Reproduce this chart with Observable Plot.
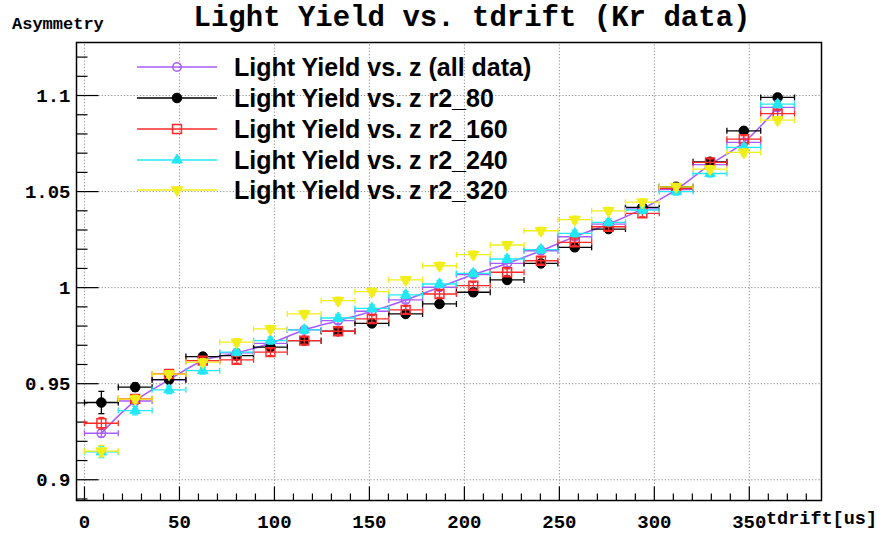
<!DOCTYPE html>
<html><head><meta charset="utf-8">
<script src="https://cdn.jsdelivr.net/npm/d3@7"></script>
<script src="https://cdn.jsdelivr.net/npm/@observablehq/plot@0.6"></script>
<style>
body{margin:0;background:#fff}
#chart{position:relative;width:882px;height:534px}
</style>
</head><body><div id="chart"></div>
<script>
// ---------- data ----------
const tdrift = [8.9, 26.7, 44.5, 62.3, 80.1, 97.9, 115.7, 133.5, 151.3, 169.1, 186.9,
                204.7, 222.5, 240.3, 258.1, 275.9, 293.7, 311.5, 329.3, 347.1, 364.9];
const tdriftHalfWidth = 8.9;

const lyAll   = [0.9242, 0.9410, 0.9520, 0.9620, 0.9660, 0.9710, 0.9780, 0.9828, 0.9877, 0.9936, 1.0002,
                 1.0068, 1.0126, 1.0192, 1.0265, 1.0331, 1.0410, 1.0510, 1.0640, 1.0756, 1.0938];
const ly80    = [0.9402, 0.9482, 0.9521, 0.9641, 0.9646, 0.9690, 0.9724, 0.9773, 0.9814, 0.9863, 0.9915,
                 0.9976, 1.0040, 1.0126, 1.0210, 1.0305, 1.0418, 1.0525, 1.0655, 1.0816, 1.0990];
const ly160   = [0.9294, 0.9421, 0.9551, 0.9620, 0.9624, 0.9664, 0.9724, 0.9773, 0.9837, 0.9884, 0.9967,
                 1.0010, 1.0080, 1.0140, 1.0236, 1.0317, 1.0387, 1.0516, 1.0652, 1.0773, 1.0906];
const ly240   = [0.9145, 0.9360, 0.9468, 0.9568, 0.9664, 0.9724, 0.9780, 0.9842, 0.9892, 0.9962, 1.0019,
                 1.0074, 1.0149, 1.0198, 1.0282, 1.0340, 1.0404, 1.0500, 1.0594, 1.0730, 1.0955];
const ly320   = [0.9149, 0.9420, 0.9550, 0.9612, 0.9716, 0.9785, 0.9863, 0.9932, 0.9979, 1.0040, 1.0114,
                 1.0172, 1.0222, 1.0296, 1.0354, 1.0400, 1.0445, 1.0525, 1.0617, 1.0704, 1.0872];

const errAll  = [0.0020, 0.0018, 0.0016, 0.0016, 0.0016, 0.0016, 0.0016, 0.0016, 0.0016, 0.0016, 0.0016,
                 0.0016, 0.0016, 0.0016, 0.0016, 0.0016, 0.0016, 0.0016, 0.0016, 0.0016, 0.0016];
const err80   = [0.0058, 0.0022, 0.0020, 0.0018, 0.0018, 0.0018, 0.0018, 0.0018, 0.0018, 0.0018, 0.0018,
                 0.0018, 0.0018, 0.0018, 0.0018, 0.0018, 0.0018, 0.0018, 0.0018, 0.0018, 0.0018];
const err160  = [0.0030, 0.0020, 0.0018, 0.0018, 0.0018, 0.0018, 0.0018, 0.0018, 0.0018, 0.0018, 0.0018,
                 0.0018, 0.0018, 0.0018, 0.0018, 0.0018, 0.0018, 0.0018, 0.0018, 0.0018, 0.0018];
const err240  = [0.0030, 0.0022, 0.0020, 0.0018, 0.0018, 0.0018, 0.0018, 0.0018, 0.0018, 0.0018, 0.0018,
                 0.0018, 0.0018, 0.0018, 0.0018, 0.0018, 0.0018, 0.0018, 0.0018, 0.0018, 0.0018];
const err320  = [0.0030, 0.0020, 0.0018, 0.0018, 0.0018, 0.0018, 0.0018, 0.0018, 0.0018, 0.0018, 0.0018,
                 0.0018, 0.0018, 0.0018, 0.0018, 0.0018, 0.0018, 0.0018, 0.0018, 0.0018, 0.0018];

const seriesNames = ["Light Yield vs. z (all data)", "Light Yield vs. z r2_80", "Light Yield vs. z r2_160",
                     "Light Yield vs. z r2_240", "Light Yield vs. z r2_320"];

const xTicks = [0, 50, 100, 150, 200, 250, 300, 350];
const xTickLabels = ["0", "50", "100", "150", "200", "250", "300", "350"];
const yTicks = [0.9, 0.95, 1.0, 1.05, 1.1];
const yTickLabels = ["0.9", "0.95", "1", "1.05", "1.1"];

const titleText = "Light Yield vs. tdrift (Kr data)";
const yTitle = "Asymmetry";
const xTitle = "tdrift[us]";

// ---------- styling ----------
const W = 882, H = 534;
const mL = 76, mR = 61, mT = 42, mB = 34;
const xDom = [-4.2, 388];
const yDom = [0.8892, 1.1276];
const mono = "'Liberation Mono','DejaVu Sans Mono',monospace";
const sans = "'Liberation Sans',Arial,Helvetica,sans-serif";

const seriesStyle = [
  {color: "#a65cff", symbol: "circle",   fill: "none",    r: 4.2, rot: 0,   sw: 1.5},
  {color: "#000000", symbol: "circle",   fill: "#000000", r: 4.8, rot: 0,   sw: 1},
  {color: "#ff2a2a", symbol: "square",   fill: "none",    r: 5.0, rot: 0,   sw: 1.5},
  {color: "#22e8f5", symbol: "triangle", fill: "#22e8f5", r: 3.9, rot: 0,   sw: 1},
  {color: "#f2ee1a", symbol: "triangle", fill: "#f2ee1a", r: 4.2, rot: 180, sw: 1}
];
const seriesValues = [lyAll, ly80, ly160, ly240, ly320];
const seriesErrors = [errAll, err80, err160, err240, err320];

// line symbols in pixel space (for ticks and error-bar caps)
const seg = (x1, y1, x2, y2) => ({draw(ctx) { ctx.moveTo(x1, y1); ctx.lineTo(x2, y2); }});
const capV = seg(0, -3, 0, 3);
const capH = seg(-3, 0, 3, 0);

const xMinor = d3.range(0, 390, 10).filter(v => v % 50 !== 0);
const yMinor = d3.range(0.89, 1.13, 0.01).map(v => +v.toFixed(2)).filter(v => Math.round(v * 100) % 5 !== 0 && v > yDom[0] && v < yDom[1]);

const marks = [];
// grid
marks.push(Plot.ruleX(xTicks, {x: d => d, y1: yDom[0], y2: yDom[1], stroke: "#8a8a8a", strokeDasharray: "1.2,2", strokeWidth: 1}));
marks.push(Plot.ruleY(yTicks, {y: d => d, x1: xDom[0], x2: xDom[1], stroke: "#8a8a8a", strokeDasharray: "1.2,2", strokeWidth: 1}));
// ticks (inward)
marks.push(Plot.dot(xTicks, {x: d => d, y: () => yDom[0], symbol: seg(0, 0, 0, -14), stroke: "#000", strokeWidth: 1.2, fill: "none"}));
marks.push(Plot.dot(xMinor, {x: d => d, y: () => yDom[0], symbol: seg(0, 0, 0, -7), stroke: "#000", strokeWidth: 1.2, fill: "none"}));
marks.push(Plot.dot(yTicks, {x: () => xDom[0], y: d => d, symbol: seg(0, 0, 22, 0), stroke: "#000", strokeWidth: 1.2, fill: "none"}));
marks.push(Plot.dot(yMinor, {x: () => xDom[0], y: d => d, symbol: seg(0, 0, 11, 0), stroke: "#000", strokeWidth: 1.2, fill: "none"}));
// tick labels
marks.push(Plot.text(xTicks, {x: d => d, y: () => yDom[0], text: (d, i) => xTickLabels[i], dy: 21, fontFamily: mono, fontWeight: "bold", fontSize: 19, fill: "#000"}));
marks.push(Plot.text(yTicks, {x: () => xDom[0], y: d => d, text: (d, i) => yTickLabels[i], dx: -6, textAnchor: "end", fontFamily: mono, fontWeight: "bold", fontSize: 19, fill: "#000"}));

// data series
seriesValues.forEach((vals, s) => {
  const st = seriesStyle[s];
  const rows = tdrift.map((x, i) => ({x, y: vals[i], e: seriesErrors[s][i]}));
  marks.push(Plot.ruleY(rows, {y: "y", x1: d => d.x - tdriftHalfWidth, x2: d => d.x + tdriftHalfWidth, stroke: st.color, strokeWidth: 1.3}));
  marks.push(Plot.ruleX(rows, {x: "x", y1: d => d.y - d.e, y2: d => d.y + d.e, stroke: st.color, strokeWidth: 1.3}));
  marks.push(Plot.dot(rows, {x: d => d.x - tdriftHalfWidth, y: "y", symbol: capV, stroke: st.color, strokeWidth: 1.3, fill: "none"}));
  marks.push(Plot.dot(rows, {x: d => d.x + tdriftHalfWidth, y: "y", symbol: capV, stroke: st.color, strokeWidth: 1.3, fill: "none"}));
  marks.push(Plot.dot(rows, {x: "x", y: d => d.y - d.e, symbol: capH, stroke: st.color, strokeWidth: 1.3, fill: "none"}));
  marks.push(Plot.dot(rows, {x: "x", y: d => d.y + d.e, symbol: capH, stroke: st.color, strokeWidth: 1.3, fill: "none"}));
  if (s === 0) {
    marks.push(Plot.line(rows, {x: "x", y: "y", curve: "catmull-rom", stroke: st.color, strokeWidth: 1.6}));
  }
  marks.push(Plot.dot(rows, {x: "x", y: "y", symbol: st.symbol, r: st.r, rotate: st.rot,
    fill: st.fill, stroke: st.color, strokeWidth: st.sw}));
});

marks.push(Plot.frame({stroke: "#000", strokeWidth: 1.5}));

const chart = Plot.plot({
  width: W, height: H,
  marginLeft: mL, marginRight: mR, marginTop: mT, marginBottom: mB,
  x: {domain: xDom, axis: null},
  y: {domain: yDom, axis: null},
  style: {background: "#fff", overflow: "visible"},
  marks
});
document.getElementById("chart").appendChild(chart);

// ---------- titles & legend ----------
const svg = d3.select(chart);
svg.append("text").attr("x", 472).attr("y", 26).attr("text-anchor", "middle")
  .attr("font-family", mono).attr("font-weight", "bold").attr("font-size", 29).attr("fill", "#000").text(titleText);
svg.append("text").attr("x", 12).attr("y", 29).attr("text-anchor", "start")
  .attr("font-family", mono).attr("font-weight", "bold").attr("font-size", 17).attr("fill", "#000").text(yTitle);
svg.append("text").attr("x", 766).attr("y", 524).attr("text-anchor", "start")
  .attr("font-family", mono).attr("font-weight", "bold").attr("font-size", 18.5).attr("fill", "#000").text(xTitle);

const legY = [67, 98, 129, 160, 190];
const symMap = {circle: d3.symbolCircle, square: d3.symbolSquare, triangle: d3.symbolTriangle};
const leg = svg.append("g");
seriesNames.forEach((name, s) => {
  const st = seriesStyle[s];
  const y = legY[s];
  leg.append("line").attr("x1", 137).attr("x2", 217).attr("y1", y).attr("y2", y)
    .attr("stroke", st.color).attr("stroke-width", 1.6);
  leg.append("path").attr("d", d3.symbol(symMap[st.symbol], Math.PI * st.r * st.r)())
    .attr("transform", `translate(177,${y}) rotate(${st.rot})`)
    .attr("fill", st.fill === "none" ? "none" : st.fill).attr("stroke", st.color).attr("stroke-width", st.sw);
  leg.append("text").attr("x", 234).attr("y", y + 9).attr("text-anchor", "start")
    .attr("font-family", sans).attr("font-weight", "bold").attr("font-size", 25).attr("fill", "#000").text(name);
});
</script>
</body></html>
